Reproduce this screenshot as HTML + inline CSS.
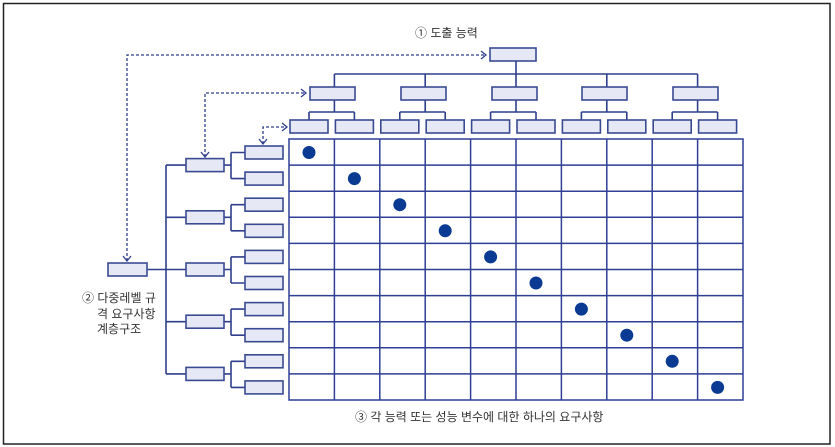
<!DOCTYPE html>
<html><head><meta charset="utf-8"><style>
html,body{margin:0;padding:0;background:#fff;width:835px;height:447px;overflow:hidden}
svg{display:block}
text{font-family:"Liberation Sans","Noto Sans CJK KR",sans-serif;font-size:12px;fill:#333}
.b{fill:#e6e8f5;stroke:#3a4a92;stroke-width:1.6}
.l{stroke:#2f3f8c;stroke-width:1.6;fill:none}
.g{stroke:#2f3f95;stroke-width:1.5;fill:none}
.d{stroke:#2f3f8c;stroke-width:1.3;fill:none;stroke-dasharray:3 2}
.a{stroke:#2f3f8c;stroke-width:1.3;fill:none}
.dot{fill:#0b3a92}
</style></head><body>
<svg width="835" height="447" viewBox="0 0 835 447">
<rect x="3.5" y="3.5" width="826.5" height="440.5" fill="none" stroke="#222" stroke-width="1.5"/>

<!-- grid -->
<g class="g">
<rect x="289" y="139" width="454" height="261"/>
<path d="M334.4 139V400M379.8 139V400M425.2 139V400M470.6 139V400M516 139V400M561.4 139V400M606.8 139V400M652.2 139V400M697.6 139V400"/>
<path d="M289 165.1H743M289 191.2H743M289 217.3H743M289 243.4H743M289 269.5H743M289 295.6H743M289 321.7H743M289 347.8H743M289 373.9H743"/>
</g>

<!-- dots -->
<g class="dot">
<circle cx="309" cy="152.5" r="6.5"/>
<circle cx="354.4" cy="178.6" r="6.5"/>
<circle cx="399.8" cy="204.7" r="6.5"/>
<circle cx="445.2" cy="230.8" r="6.5"/>
<circle cx="490.6" cy="256.9" r="6.5"/>
<circle cx="536" cy="283" r="6.5"/>
<circle cx="581.4" cy="309.1" r="6.5"/>
<circle cx="626.8" cy="335.2" r="6.5"/>
<circle cx="672.2" cy="361.3" r="6.5"/>
<circle cx="717.6" cy="387.4" r="6.5"/>
</g>

<!-- top tree lines -->
<g class="l">
<path d="M516 61V74M334.4 74H697.6M334.4 74V87M425.2 74V87M516 74V87M606.8 74V87M697.6 74V87"/>
<path d="M334.4 100V112M309 112H354.4M309 112V120M354.4 112V120"/>
<path d="M425.2 100V112M399.8 112H445.2M399.8 112V120M445.2 112V120"/>
<path d="M516 100V112M490.6 112H536M490.6 112V120M536 112V120"/>
<path d="M606.8 100V112M581.4 112H626.8M581.4 112V120M626.8 112V120"/>
<path d="M697.6 100V112M672.2 112H717.6M672.2 112V120M717.6 112V120"/>
</g>
<rect class="b" x="490" y="48" width="46" height="13"/>
<g class="b">
<rect x="310" y="87" width="45" height="13"/>
<rect x="401" y="87" width="45" height="13"/>
<rect x="492" y="87" width="45" height="13"/>
<rect x="582" y="87" width="45" height="13"/>
<rect x="673" y="87" width="45" height="13"/>
<rect x="290" y="120" width="38" height="13"/>
<rect x="335.4" y="120" width="38" height="13"/>
<rect x="380.8" y="120" width="38" height="13"/>
<rect x="426.2" y="120" width="38" height="13"/>
<rect x="471.6" y="120" width="38" height="13"/>
<rect x="517" y="120" width="38" height="13"/>
<rect x="562.4" y="120" width="38" height="13"/>
<rect x="607.8" y="120" width="38" height="13"/>
<rect x="653.2" y="120" width="38" height="13"/>
<rect x="698.6" y="120" width="38" height="13"/>
</g>

<!-- left tree lines -->
<g class="l">
<path d="M147 269.5H166M166 165.1V373.9"/>
<path d="M166 165.1H186M166 217.3H186M166 269.5H186M166 321.7H186M166 373.9H186"/>
<path d="M224 165.1H231M231 152.5V178.6M231 152.5H245M231 178.6H245"/>
<path d="M224 217.3H231M231 204.7V230.8M231 204.7H245M231 230.8H245"/>
<path d="M224 269.5H231M231 256.9V283M231 256.9H245M231 283H245"/>
<path d="M224 321.7H231M231 309.1V335.2M231 309.1H245M231 335.2H245"/>
<path d="M224 373.9H231M231 361.3V387.4M231 361.3H245M231 387.4H245"/>
</g>
<g class="b">
<rect x="108" y="263" width="39" height="13"/>
<rect x="186" y="158.6" width="38" height="13"/>
<rect x="186" y="210.8" width="38" height="13"/>
<rect x="186" y="263" width="38" height="13"/>
<rect x="186" y="315.2" width="38" height="13"/>
<rect x="186" y="367.4" width="38" height="13"/>
<rect x="245" y="146" width="38" height="13"/>
<rect x="245" y="172.1" width="38" height="13"/>
<rect x="245" y="198.2" width="38" height="13"/>
<rect x="245" y="224.3" width="38" height="13"/>
<rect x="245" y="250.4" width="38" height="13"/>
<rect x="245" y="276.5" width="38" height="13"/>
<rect x="245" y="302.6" width="38" height="13"/>
<rect x="245" y="328.7" width="38" height="13"/>
<rect x="245" y="354.8" width="38" height="13"/>
<rect x="245" y="380.9" width="38" height="13"/>
</g>

<!-- dashed arrows -->
<path class="d" d="M127 261V55H486"/>
<path class="a" d="M481 51L486 55L481 59M123 256L127 261L131 256"/>
<path class="d" d="M205 157V93H306"/>
<path class="a" d="M301 89L306 93L301 97M201 152L205 157L209 152"/>
<path class="d" d="M263 144V127H287"/>
<path class="a" d="M282 123L287 127L282 131M259 139L263 144L267 139"/>

<!-- texts -->
<text x="415" y="37">① 도출 능력</text>
<text x="82" y="302">② 다중레벨 규</text>
<text x="97" y="318">격 요구사항</text>
<text x="97" y="333">계층구조</text>
<text x="355" y="421">③ 각 능력 또는 성능 변수에 대한 하나의 요구사항</text>
</svg>
</body></html>
